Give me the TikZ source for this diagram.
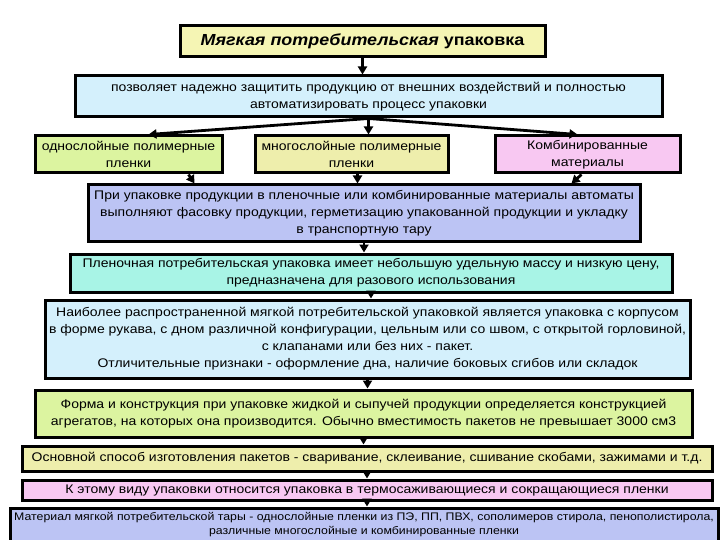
\documentclass[tikz,border=0pt]{standalone}
\usepackage{fontspec}
\setmainfont{Liberation Sans}[FakeStretch=1.12]
\usetikzlibrary{arrows.meta,calc}
\definecolor{cTitle}{HTML}{F5F5B4}
\definecolor{cSky}{HTML}{D4F0FC}
\definecolor{cLime}{HTML}{DCF4A0}
\definecolor{cOlive}{HTML}{EEEEAC}
\definecolor{cPink}{HTML}{F8C8F2}
\definecolor{cLav}{HTML}{BCC4F4}
\definecolor{cAqua}{HTML}{A8F4E6}
\tikzset{
	blk/.style={draw,line width=3pt,align=center,inner sep=1pt,font=\fontsize{12.5}{17}\selectfont},
	sz/.style 2 args={minimum width=#1pt,minimum height=#2pt},
	arr/.style={line width=2.8pt,-{Triangle[length=8pt,width=9pt]}},
}
\begin{document}
\begin{tikzpicture}[x=1pt,y=-1pt]
		\useasboundingbox (0,0) rectangle (720,540);
		\node[blk,sz={365}{31},fill=cTitle,font=\fontsize{16}{18}\selectfont\bfseries] (ttl) at (362.5,41.5) {\textit{Мягкая потребительская} упаковка};
		\node[blk,sz={587}{41},fill=cSky] (top) at (368.5,96.5) {позволяет надежно защитить продукцию от внешних воздействий и полностью\\автоматизировать процесс упаковки};
		\node[blk,sz={187}{37},fill=cLime] (odn) at (128.5,154.5) {однослойные полимерные\\пленки};
		\node[blk,sz={193}{37},fill=cOlive] (mnog) at (351.5,154.5) {многослойные полимерные\\пленки};
		\node[blk,sz={185}{37},fill=cPink] (komb) at (587.5,154.5) {Комбинированные\\материалы};
		\node[blk,sz={552}{56},fill=cLav] (pri) at (364,213) {При упаковке продукции в пленочные или комбинированные материалы автоматы\\выполняют фасовку продукции, герметизацию упакованной продукции и укладку\\в транспортную тару};
		\node[blk,sz={602}{38},fill=cAqua] (plen) at (371,273) {Пленочная потребительская упаковка имеет небольшую удельную массу и низкую цену,\\предназначена для разового использования};
		\node[blk,sz={645}{78},fill=cSky] (nai) at (367.5,339) {Наиболее распространенной мягкой потребительской упаковкой является упаковка с корпусом\\в форме рукава, с дном различной конфигурации, цельным или со швом, с открытой горловиной,\\с клапанами или без них - пакет.\\Отличительные признаки - оформление дна, наличие боковых сгибов или складок};
		\node[blk,sz={657}{47},fill=cLime] (forma) at (363.5,413.5) {Форма и конструкция при упаковке жидкой и сыпучей продукции определяется конструкцией\\агрегатов, на которых она производится. Обычно вместимость пакетов не превышает 3000 см3};
		\node[blk,sz={690}{25},fill=cOlive] (osn) at (367,458.5) {Основной способ изготовления пакетов - сваривание, склеивание, сшивание скобами, зажимами и т.д.};
		\node[blk,sz={690}{20},fill=cPink] (term) at (367,490) {К этому виду упаковки относится упаковка в термосаживающиеся и сокращающиеся пленки};
		\node[blk,sz={708}{33},fill=cLav,font=\fontsize{11}{14}\selectfont] (mat) at (364,524.5) {Материал мягкой потребительской тары - однослойные пленки из ПЭ, ПП, ПВХ, сополимеров стирола, пенополистирола,\\различные многослойные и комбинированные пленки};
		\draw[arr] (top.south) -- ($(odn.north)+(20,0)$);
		\draw[arr] (top.south) -- (top.south |- mnog.north);
		\draw[arr] (top.south) -- ($(komb.north)+(-10,0)$);
		\draw[arr] ($(odn.south)+(60,0)$) -- ($(odn.south |- pri.north)+(66,0)$);
		\draw[arr] ($(mnog.south)+(6,0)$) -- ($(mnog.south |- pri.north)+(6,0)$);
		\draw[arr] ($(komb.south)+(-6,0)$) -- ($(komb.south |- pri.north)+(-16,0)$);
		\foreach \a/\b in {ttl/top,pri/plen,plen/nai,nai/forma,forma/osn,osn/term,term/mat}
		\draw[arr] (\a.south) -- (\a.south |- \b.north);
	\end{tikzpicture}
\end{document}
